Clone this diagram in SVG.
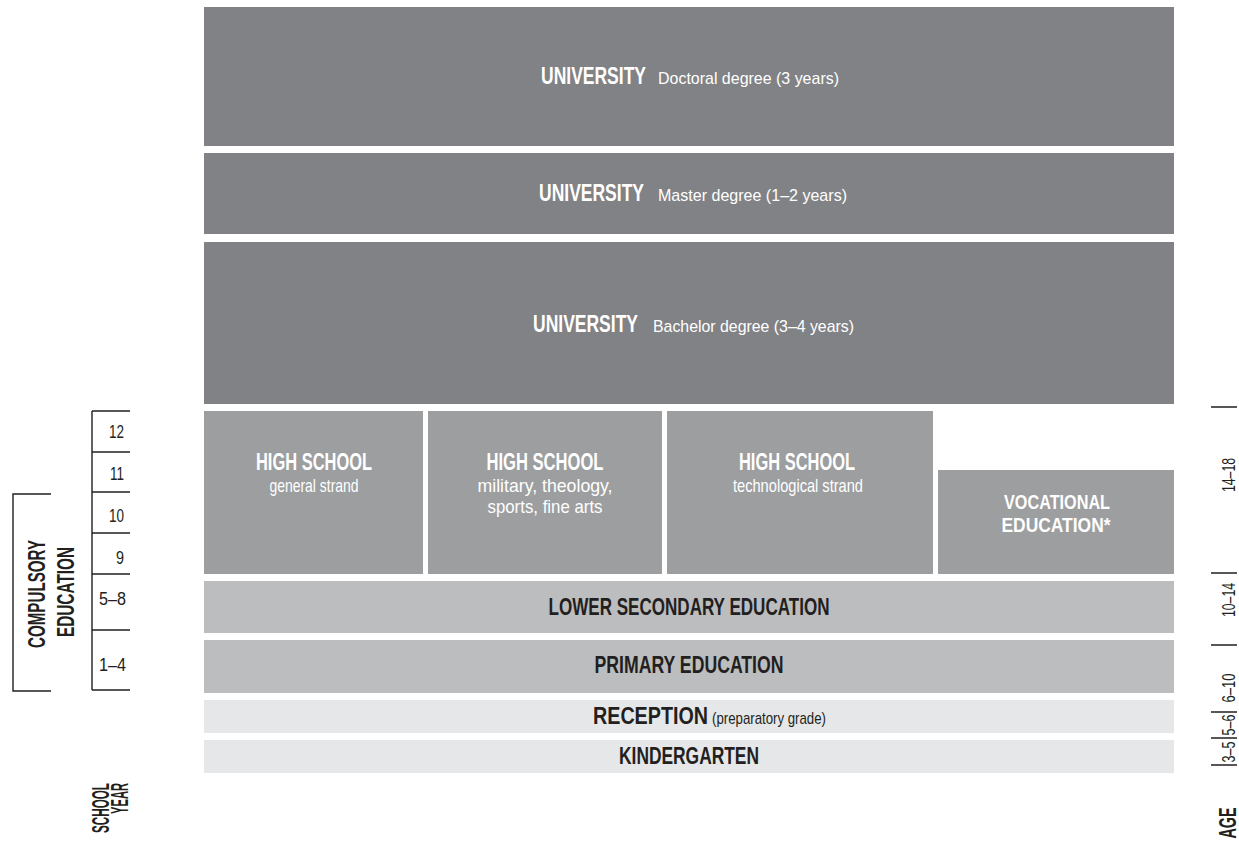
<svg xmlns="http://www.w3.org/2000/svg" width="1239" height="848" viewBox="0 0 1239 848">
<style>
text{font-family:"Liberation Sans Narrow","Liberation Sans",Arial,sans-serif;}
.b{font-weight:bold;font-size:23px;}
.v{font-weight:bold;font-size:21px;}
.s{font-size:17px;}
.s2{font-size:18.5px;}
.w{fill:#ffffff;}
.d{fill:#231f20;}
.uni{fill:#818285;}
.hs{fill:#9d9ea0;}
.mid{fill:#bcbdbf;}
.lt{fill:#e6e7e8;}
.ln{stroke:#231f20;stroke-width:1.4;fill:none;}
.n{font-size:18px;fill:#231f20;}
</style>
<rect width="1239" height="848" fill="#ffffff"/>

<g id="doctoral">
<rect class="uni" x="204" y="7" width="970" height="139"/>
<text class="b w" x="541" y="84" textLength="105" lengthAdjust="spacingAndGlyphs">UNIVERSITY</text>
<text class="s w" x="658" y="84" textLength="181" lengthAdjust="spacingAndGlyphs">Doctoral degree (3 years)</text>
</g>
<g id="master">
<rect class="uni" x="204" y="153" width="970" height="81"/>
<text class="b w" x="539" y="201" textLength="105" lengthAdjust="spacingAndGlyphs">UNIVERSITY</text>
<text class="s w" x="658" y="201" textLength="189" lengthAdjust="spacingAndGlyphs">Master degree (1–2 years)</text>
</g>
<g id="bachelor">
<rect class="uni" x="204" y="242" width="970" height="162"/>
<text class="b w" x="533" y="332" textLength="105" lengthAdjust="spacingAndGlyphs">UNIVERSITY</text>
<text class="s w" x="653" y="332" textLength="201" lengthAdjust="spacingAndGlyphs">Bachelor degree (3–4 years)</text>
</g>

<g id="hs-general">
<rect class="hs" x="204" y="411" width="219" height="163"/>
<text class="b w" x="314" y="470" text-anchor="middle" textLength="116" lengthAdjust="spacingAndGlyphs">HIGH SCHOOL</text>
<text class="s2 w" x="314" y="492" text-anchor="middle" textLength="89" lengthAdjust="spacingAndGlyphs">general strand</text>
</g>
<g id="hs-special">
<rect class="hs" x="428" y="411" width="234" height="163"/>
<text class="b w" x="545" y="470" text-anchor="middle" textLength="117" lengthAdjust="spacingAndGlyphs">HIGH SCHOOL</text>
<text class="s2 w" x="545" y="492" text-anchor="middle" textLength="135" lengthAdjust="spacingAndGlyphs">military, theology,</text>
<text class="s2 w" x="545" y="513" text-anchor="middle" textLength="115" lengthAdjust="spacingAndGlyphs">sports, fine arts</text>
</g>
<g id="hs-tech">
<rect class="hs" x="667" y="411" width="266" height="163"/>
<text class="b w" x="797" y="470" text-anchor="middle" textLength="116" lengthAdjust="spacingAndGlyphs">HIGH SCHOOL</text>
<text class="s2 w" x="798" y="492" text-anchor="middle" textLength="130" lengthAdjust="spacingAndGlyphs">technological strand</text>
</g>
<g id="vocational">
<rect class="hs" x="938" y="470" width="236" height="104"/>
<text class="v w" x="1057" y="509" text-anchor="middle" textLength="106" lengthAdjust="spacingAndGlyphs">VOCATIONAL</text>
<text class="v w" x="1056" y="532" text-anchor="middle" textLength="109" lengthAdjust="spacingAndGlyphs">EDUCATION*</text>
</g>

<g id="lower-secondary">
<rect class="mid" x="204" y="581" width="970" height="52"/>
<text class="b d" x="689" y="615" text-anchor="middle" textLength="281" lengthAdjust="spacingAndGlyphs">LOWER SECONDARY EDUCATION</text>
</g>
<g id="primary">
<rect class="mid" x="204" y="640" width="970" height="53"/>
<text class="b d" x="689" y="673" text-anchor="middle" textLength="189" lengthAdjust="spacingAndGlyphs">PRIMARY EDUCATION</text>
</g>
<g id="reception">
<rect class="lt" x="204" y="700" width="970" height="33"/>
<text class="b d" x="593" y="724" textLength="115" lengthAdjust="spacingAndGlyphs">RECEPTION</text>
<text class="s d" x="712" y="724" textLength="114" lengthAdjust="spacingAndGlyphs">(preparatory grade)</text>
</g>
<g id="kindergarten">
<rect class="lt" x="204" y="740" width="970" height="33"/>
<text class="b d" x="689" y="764" text-anchor="middle" textLength="140" lengthAdjust="spacingAndGlyphs">KINDERGARTEN</text>
</g>

<g id="school-year-scale">
<path class="ln" d="M92,411 V690 M92,411 H130 M92,452 H130 M92,492 H130 M92,533 H130 M92,574 H130 M92,630 H130 M92,690 H130"/>
<text class="n" x="124" y="438" text-anchor="end" textLength="15" lengthAdjust="spacingAndGlyphs">12</text>
<text class="n" x="124" y="480" text-anchor="end" textLength="14" lengthAdjust="spacingAndGlyphs">11</text>
<text class="n" x="124" y="522" text-anchor="end" textLength="15" lengthAdjust="spacingAndGlyphs">10</text>
<text class="n" x="124" y="564" text-anchor="end" textLength="8" lengthAdjust="spacingAndGlyphs">9</text>
<text class="n" x="126" y="605" text-anchor="end" textLength="27" lengthAdjust="spacingAndGlyphs">5–8</text>
<text class="n" x="126" y="671" text-anchor="end" textLength="27" lengthAdjust="spacingAndGlyphs">1–4</text>
<text class="b d" transform="translate(109,783) rotate(-90)" text-anchor="end" textLength="50" lengthAdjust="spacingAndGlyphs">SCHOOL</text>
<text class="b d" transform="translate(128,783) rotate(-90)" text-anchor="end" textLength="31" lengthAdjust="spacingAndGlyphs">YEAR</text>
</g>

<g id="compulsory-education">
<path class="ln" d="M51,494 H13 V691 H51"/>
<text class="b d" transform="translate(45,594) rotate(-90)" text-anchor="middle" textLength="108" lengthAdjust="spacingAndGlyphs">COMPULSORY</text>
<text class="b d" transform="translate(74,592) rotate(-90)" text-anchor="middle" textLength="90" lengthAdjust="spacingAndGlyphs">EDUCATION</text>
</g>

<g id="age-scale">
<path class="ln" d="M1211,407 H1237 M1211,573 H1237 M1211,645 H1237 M1211,712 H1237 M1211,738 H1237 M1211,765 H1237"/>
<text class="n" transform="translate(1235,475) rotate(-90)" text-anchor="middle" textLength="34" lengthAdjust="spacingAndGlyphs">14–18</text>
<text class="n" transform="translate(1235,600) rotate(-90)" text-anchor="middle" textLength="34" lengthAdjust="spacingAndGlyphs">10–14</text>
<text class="n" transform="translate(1235,688) rotate(-90)" text-anchor="middle" textLength="29" lengthAdjust="spacingAndGlyphs">6–10</text>
<text class="n" transform="translate(1235,725) rotate(-90)" text-anchor="middle" textLength="21" lengthAdjust="spacingAndGlyphs">5–6</text>
<text class="n" transform="translate(1235,752) rotate(-90)" text-anchor="middle" textLength="21" lengthAdjust="spacingAndGlyphs">3–5</text>
<text class="b d" transform="translate(1236,823) rotate(-90)" text-anchor="middle" textLength="31" lengthAdjust="spacingAndGlyphs">AGE</text>
</g>
</svg>
